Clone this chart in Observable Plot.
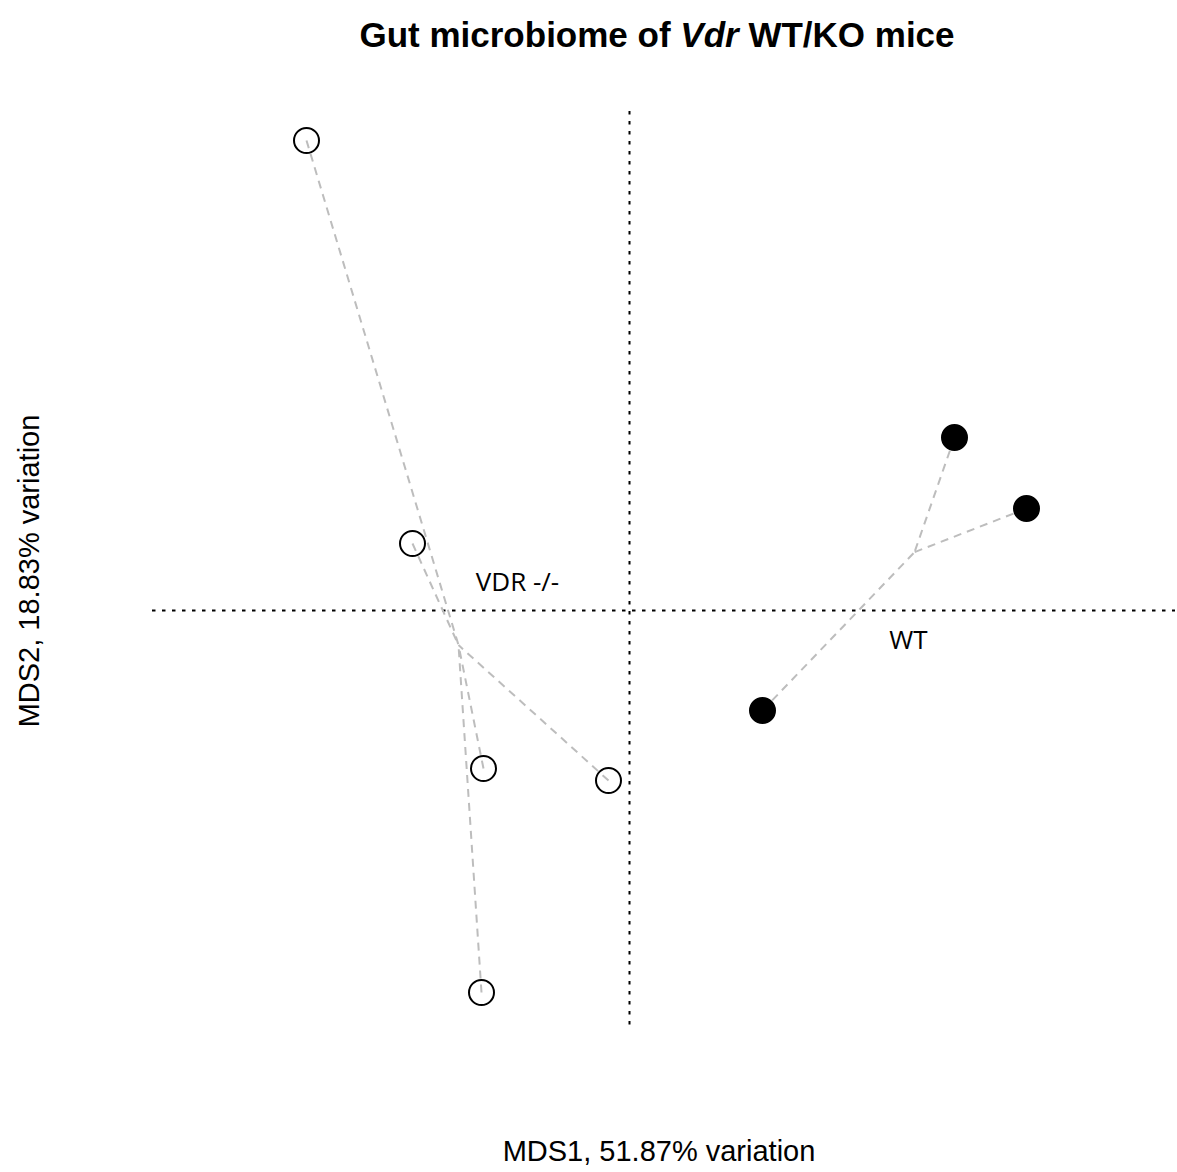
<!DOCTYPE html>
<html>
<head>
<meta charset="utf-8">
<script src="https://cdn.jsdelivr.net/npm/d3@7"></script>
<script src="https://cdn.jsdelivr.net/npm/@observablehq/plot@0.6"></script>
<style>
  html, body { margin: 0; padding: 0; background: #fff; }
  #title {
    width: 1177px; height: 80px; box-sizing: border-box;
    padding-left: 137px; padding-top: 17px;
    text-align: center;
    font: bold 35px/35px "Liberation Sans", Arial, sans-serif;
    color: #000;
  }
  #chart svg { display: block; }
</style>
</head>
<body>
<div id="title">Gut microbiome of <i>Vdr</i> WT/KO mice</div>
<div id="chart"></div>
<script>
// PCoA (MDS) coordinates per sample
const sampleGroup = ["VDR -/-", "VDR -/-", "VDR -/-", "VDR -/-", "VDR -/-", "WT", "WT", "WT"];
const mds1 = [-0.323, -0.217, -0.146, -0.021, -0.148, 0.325, 0.397, 0.133];
const mds2 = [0.470, 0.067, -0.158, -0.170, -0.382, 0.173, 0.102, -0.100];

// group labels and where they sit
const groupNames = ["VDR -/-", "WT"];
const groupLabelX = [-0.112, 0.279];
const groupLabelY = [0.028, -0.030];

const xLabel = "MDS1, 51.87% variation";
const yLabel = "MDS2, 18.83% variation";

const samples = mds1.map((x, i) => ({group: sampleGroup[i], x, y: mds2[i]}));

// group centroids for the spider lines
const centroid = new Map(
  d3.rollups(samples, v => ({x: d3.mean(v, d => d.x), y: d3.mean(v, d => d.y)}), d => d.group)
);
const spokes = samples.map(d => ({
  group: d.group, x1: d.x, y1: d.y, x2: centroid.get(d.group).x, y2: centroid.get(d.group).y
}));
const labels = groupNames.map((g, i) => ({group: g, x: groupLabelX[i], y: groupLabelY[i]}));

const chart = Plot.plot({
  width: 1177,
  height: 1092,
  marginLeft: 152,
  marginRight: 2,
  marginTop: 31,
  marginBottom: 146,
  x: {domain: [-0.477, 0.546], axis: null},
  y: {domain: [-0.416, 0.499], axis: null},
  style: {fontFamily: "'Liberation Sans', Arial, sans-serif", background: "#fff"},
  marks: [
    Plot.ruleX([0], {stroke: "#000", strokeWidth: 2, strokeDasharray: "3.5,6.5"}),
    Plot.ruleY([0], {stroke: "#000", strokeWidth: 2, strokeDasharray: "3.5,6.5"}),
    Plot.link(spokes, {
      x1: "x1", y1: "y1", x2: "x2", y2: "y2",
      stroke: "#bdbdbd", strokeWidth: 2, strokeDasharray: "8,6"
    }),
    Plot.dot(samples, {
      x: "x", y: "y", r: 12.5,
      stroke: "#000", strokeWidth: 2,
      fill: d => d.group === "WT" ? "#000" : "none"
    }),
    Plot.text(labels, {
      x: "x", y: "y", text: "group",
      fontSize: 26, fontFamily: "'Open Sans', sans-serif", fill: "#000",
      textAnchor: "middle", lineAnchor: "middle"
    }),
    Plot.text([xLabel], {
      text: d => d, frameAnchor: "bottom", dx: -5, dy: 125,
      fontSize: 29, fill: "#000", textAnchor: "middle", lineAnchor: "middle"
    }),
    Plot.text([yLabel], {
      text: d => d, frameAnchor: "left", dx: -123, dy: 2, rotate: -90,
      fontSize: 29, fill: "#000", textAnchor: "middle", lineAnchor: "middle"
    })
  ]
});
document.getElementById("chart").appendChild(chart);
</script>
</body>
</html>
